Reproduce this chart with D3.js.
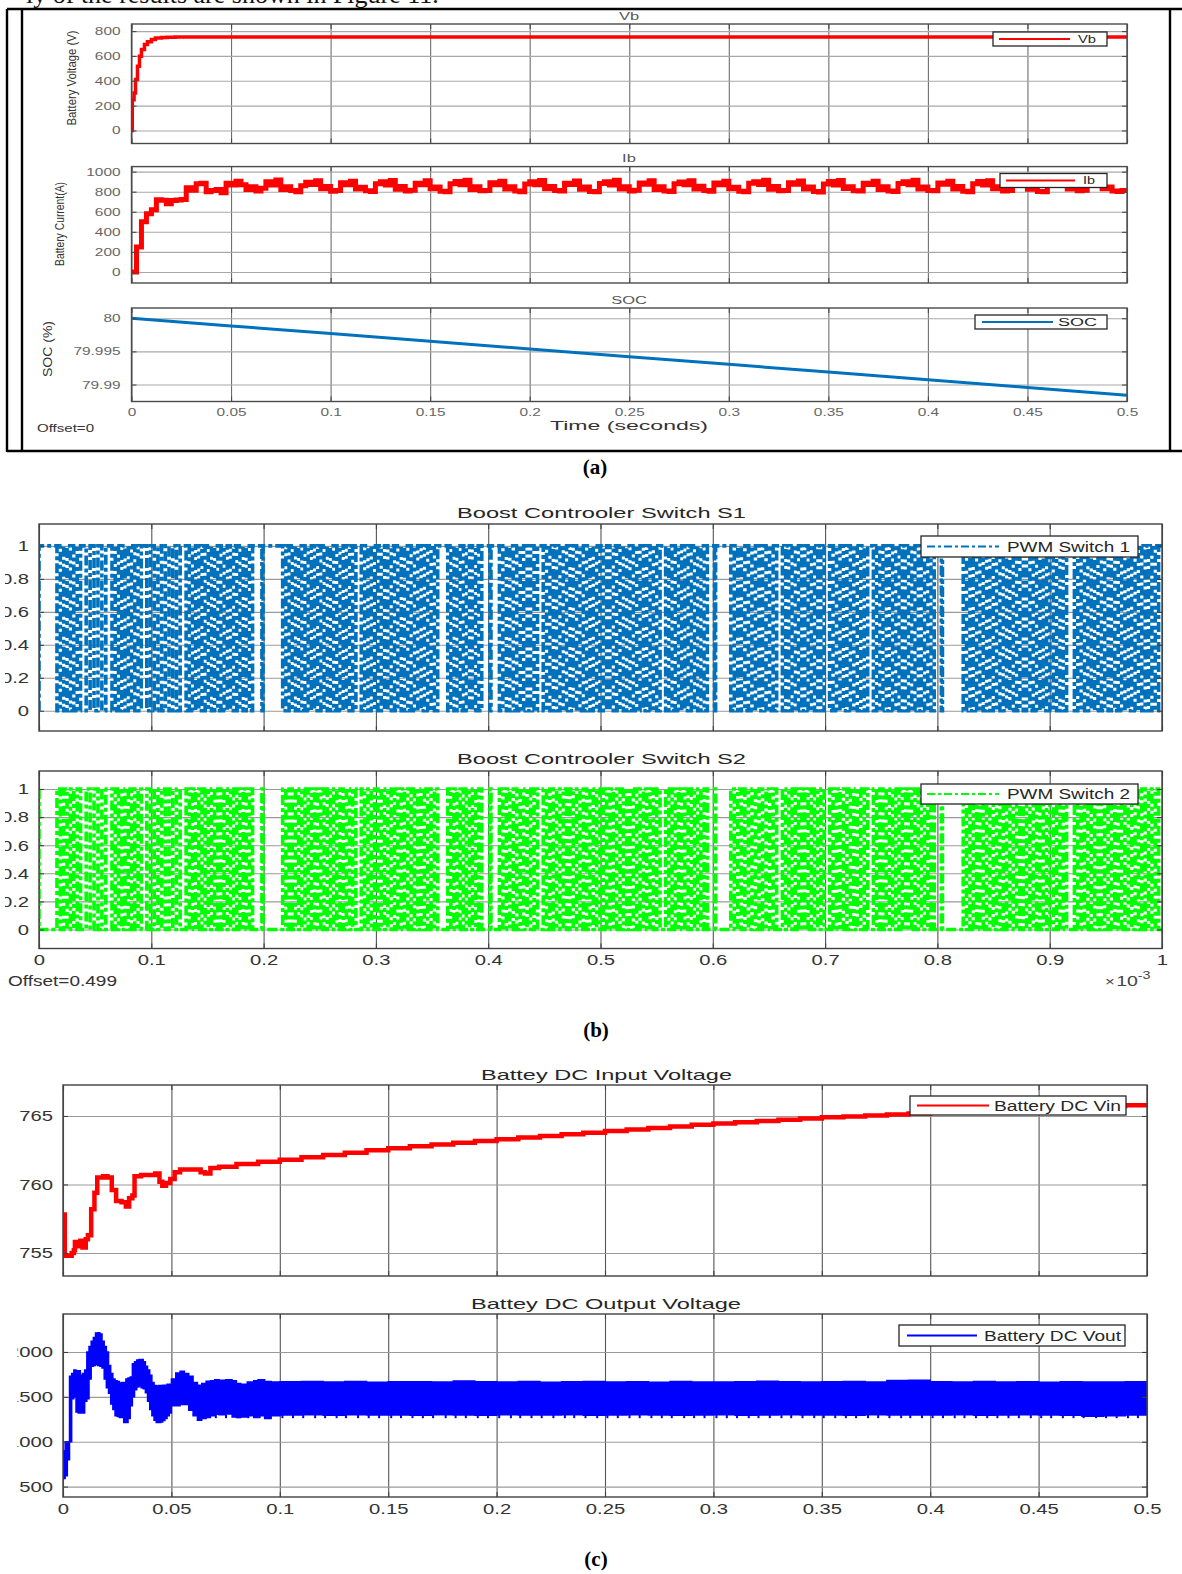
<!DOCTYPE html>
<html>
<head>
<meta charset="utf-8">
<script src="https://cdn.jsdelivr.net/npm/d3@7"></script>
<style>
  body { margin: 0; background: #fff; }
  svg { display: block; }
</style>
</head>
<body>
<svg id="fig" width="1182" height="1574"></svg>
<script>
// ---------------- (a) battery voltage, current and state of charge ----------------
const timeTicksA = [0, 0.05, 0.1, 0.15, 0.2, 0.25, 0.3, 0.35, 0.4, 0.45, 0.5];
const vbTicks = [0, 200, 400, 600, 800];
const ibTicks = [0, 200, 400, 600, 800, 1000];
const socTicks = [79.99, 79.995, 80];

const vbT = [0, 0.0004, 0.0013, 0.002, 0.003, 0.004, 0.005, 0.0065, 0.008, 0.01, 0.012, 0.015, 0.018, 0.022, 0.026, 0.5];
const vbV = [0, 248, 302, 410, 517, 598, 652, 692, 715, 733, 744, 749, 751, 752, 752, 752];

// battery current sampled every 2.5 ms
const ibStep = 0.0025;
const ibV = [
  0, 250, 500, 580, 620, 720, 715, 680, 712, 718, 722, 840, 815, 880, 885, 800, 812, 822, 790, 883, 867,
  905, 870, 823, 850, 807, 835, 900, 867,
  917, 823, 848, 812, 800, 860, 895, 872,
  910, 830, 852, 805, 812, 888, 870, 905,
  828, 845, 810, 802, 878, 900, 866, 912,
  825, 851, 808, 815, 885, 870, 908, 830,
  846, 804, 800, 880, 902, 868, 915, 822,
  850, 810, 812, 890, 870, 904, 826, 848,
  806, 800, 876, 898, 870, 912, 830, 852,
  812, 808, 884, 872, 906, 824, 846, 803,
  799, 882, 900, 866, 914, 828, 850, 808,
  815, 887, 874, 908, 822, 848, 806, 802,
  879, 897, 869, 910, 826, 853, 811, 805,
  886, 868, 905, 829, 845, 804, 800, 884,
  899, 871, 913, 824, 851, 809, 813, 888,
  873, 907, 827, 847, 802, 798, 877, 902,
  866, 911, 831, 850, 810, 806, 885, 871,
  904, 823, 849, 807, 801, 881, 898, 869,
  915, 828, 846, 812, 809, 887, 874, 903,
  826, 852, 805, 799, 878, 901, 867, 909,
  830, 848, 808, 811, 883, 869, 906, 825,
  845, 803, 800, 880, 896, 872, 912, 827,
  851, 810, 814, 886, 873, 904, 829, 847,
  806, 802, 812, 800
];

const socT = [0, 0.05, 0.1, 0.15, 0.2, 0.25, 0.3, 0.35, 0.4, 0.45, 0.5];
const socV = [80, 79.99884, 79.99768, 79.99652, 79.99536, 79.9942, 79.99304, 79.99188, 79.99072, 79.98956, 79.9884];

// ---------------- (b) boost converter switching signals (time x 1e-3 s) ----------------
const pwmTicksX = [0, 0.1, 0.2, 0.3, 0.4, 0.5, 0.6, 0.7, 0.8, 0.9, 1];
const pwmTicksY = [0, 0.2, 0.4, 0.6, 0.8, 1];
// switching bursts of S1: [start, end, edge spacing]; S1 rests high between bursts
const s1Bursts = [
  [0.016, 0.040, 0.0030],
  [0.042, 0.063, 0.0031],
  [0.065, 0.094, 0.0030],
  [0.096, 0.129, 0.0031],
  [0.131, 0.193, 0.0029],
  [0.1985, 0.2005, 0.001],
  [0.217, 0.285, 0.0029],
  [0.287, 0.358, 0.0029],
  [0.364, 0.397, 0.0030],
  [0.4015, 0.4035, 0.001],
  [0.410, 0.447, 0.0030],
  [0.449, 0.556, 0.0029],
  [0.558, 0.598, 0.0030],
  [0.6015, 0.6035, 0.001],
  [0.616, 0.660, 0.0031],
  [0.662, 0.702, 0.0030],
  [0.704, 0.741, 0.0030],
  [0.743, 0.800, 0.0029],
  [0.8035, 0.8055, 0.001],
  [0.823, 0.918, 0.0029],
  [0.922, 1.0, 0.0030]
];

// ---------------- (c) battery DC input / output voltage ----------------
const timeTicksC = [0, 0.05, 0.1, 0.15, 0.2, 0.25, 0.3, 0.35, 0.4, 0.45, 0.5];
const vinTicks = [755, 760, 765];
const vinT = [0, 0.0008, 0.002, 0.004, 0.005, 0.0055, 0.007, 0.008, 0.009, 0.0105, 0.0115, 0.013, 0.0145, 0.0158,
  0.0185, 0.0205, 0.0225, 0.0245, 0.027, 0.029, 0.0305, 0.032, 0.033, 0.036, 0.0425, 0.0445, 0.0458, 0.0475,
  0.0495, 0.0515, 0.054, 0.061, 0.0635, 0.0655, 0.068, 0.072, 0.08, 0.09, 0.1, 0.11, 0.12, 0.13, 0.14, 0.15,
  0.16, 0.17, 0.18, 0.19, 0.2, 0.21, 0.22, 0.23, 0.24, 0.25, 0.26, 0.27, 0.28, 0.29, 0.3, 0.31, 0.32, 0.33,
  0.34, 0.35, 0.36, 0.37, 0.38, 0.39, 0.4, 0.41, 0.42, 0.43, 0.44, 0.45, 0.46, 0.47, 0.48, 0.49, 0.5];
const vinV = [757.8, 754.8, 754.8, 755.0, 755.2, 755.8, 755.5, 755.9, 755.4, 756.0, 756.3, 758.2, 759.4, 760.5,
  760.6, 760.5, 759.6, 758.8, 758.7, 758.4, 759.0, 759.2, 760.6, 760.7, 760.8, 760.2, 759.9, 760.1,
  760.4, 760.9, 761.1, 761.1, 760.9, 760.8, 761.2, 761.3, 761.5, 761.65, 761.8, 761.98, 762.15, 762.32, 762.5, 762.65,
  762.79, 762.92, 763.05, 763.18, 763.3, 763.42, 763.54, 763.66, 763.78, 763.9, 764.02, 764.13, 764.24, 764.35, 764.45,
  764.55, 764.64, 764.73, 764.82, 764.9, 764.97, 765.04, 765.11, 765.18, 765.25, 765.31, 765.37, 765.43, 765.49,
  765.55, 765.61, 765.67, 765.73, 765.79, 765.85];

const voutTicks = [500, 1000, 1500, 2000];
const voutT = [0, 0.001, 0.002, 0.003, 0.004, 0.005, 0.006, 0.007, 0.008, 0.009, 0.010, 0.011, 0.012, 0.013, 0.014,
  0.015, 0.016, 0.017, 0.018, 0.019, 0.020, 0.021, 0.022, 0.023, 0.024, 0.025, 0.026, 0.027, 0.028, 0.029, 0.030,
  0.031, 0.032, 0.033, 0.034, 0.035, 0.036, 0.037, 0.038, 0.039, 0.040, 0.041, 0.042, 0.043, 0.044, 0.045, 0.046,
  0.047, 0.048, 0.049, 0.050, 0.052, 0.054, 0.056, 0.058, 0.060, 0.062, 0.064, 0.066, 0.068, 0.070, 0.072, 0.075,
  0.078, 0.080, 0.082, 0.085, 0.088, 0.090, 0.093, 0.096,
  0.10, 0.11, 0.12, 0.13, 0.14, 0.15, 0.16, 0.17, 0.18, 0.19, 0.20, 0.21, 0.22, 0.23, 0.24, 0.25, 0.26, 0.27,
  0.28, 0.29, 0.30, 0.31, 0.32, 0.33, 0.34, 0.35, 0.36, 0.37, 0.38, 0.39, 0.40, 0.41, 0.42, 0.43, 0.44, 0.45,
  0.46, 0.47, 0.48, 0.49, 0.50];
const voutHi = [900, 1000, 1000, 1730, 1760, 1800, 1790, 1790, 1740, 1760, 1800, 2000, 2060, 2120, 2160,
  2210, 2215, 2200, 2120, 2060, 2000, 1850, 1760, 1700, 1680, 1670, 1655, 1660, 1660, 1700, 1710,
  1720, 1870, 1890, 1910, 1915, 1915, 1890, 1840, 1800, 1740, 1660, 1625, 1620, 1625, 1625, 1630,
  1630, 1640, 1640, 1700, 1765, 1785, 1760, 1730, 1660, 1630, 1650, 1675, 1680, 1690, 1685, 1690,
  1680, 1650, 1640, 1665, 1680, 1690, 1670, 1665,
  1668, 1672, 1665, 1670, 1663, 1667, 1669, 1664, 1676, 1668, 1666, 1670, 1662, 1667, 1671, 1665, 1668, 1663,
  1670, 1666, 1664, 1669, 1673, 1667, 1665, 1668, 1670, 1664, 1682, 1684, 1668, 1666, 1670, 1665, 1667, 1663,
  1669, 1666, 1664, 1668, 1667];
const voutLo = [590, 620, 800, 1000, 1480, 1500, 1330, 1320, 1320, 1320, 1450, 1480, 1700, 1840, 1850,
  1860, 1850, 1840, 1820, 1700, 1600, 1540, 1420, 1360, 1290, 1280, 1270, 1270, 1215, 1215, 1260,
  1400, 1500, 1580, 1610, 1620, 1600, 1590, 1545, 1450, 1360, 1290, 1240, 1215, 1215, 1220, 1235,
  1260, 1290, 1320, 1400, 1400, 1415, 1415, 1350, 1290, 1240, 1260, 1270, 1290, 1305, 1300, 1310,
  1275, 1270, 1275, 1290, 1270, 1290, 1260, 1290,
  1298, 1300, 1296, 1301, 1297, 1299, 1295, 1300, 1298, 1296, 1301, 1297, 1299, 1300, 1296, 1298, 1301, 1297,
  1295, 1299, 1300, 1296, 1298, 1301, 1297, 1299, 1296, 1300, 1298, 1297, 1299, 1301, 1296, 1298, 1300, 1297,
  1295, 1285, 1290, 1298, 1296];
// short downward ripple spikes along the lower edge of the output band
const voutSpikeT = [0.065, 0.0705, 0.0752, 0.0808, 0.0855, 0.0907, 0.0951, 0.1012, 0.1061, 0.1108, 0.1163, 0.1209,
  0.1262, 0.1305, 0.1361, 0.1410, 0.1458, 0.1514, 0.1559, 0.1612, 0.1660, 0.1707, 0.1765, 0.1811, 0.1858, 0.1913,
  0.1960, 0.2012, 0.2066, 0.2109, 0.2161, 0.2208, 0.2262, 0.2315, 0.2358, 0.2410, 0.2464, 0.2511, 0.2559, 0.2613,
  0.2660, 0.2714, 0.2762, 0.2808, 0.2865, 0.2911, 0.2959, 0.3014, 0.3062, 0.3109, 0.3163, 0.3208, 0.3260, 0.3314,
  0.3359, 0.3411, 0.3465, 0.3509, 0.3562, 0.3611, 0.3658, 0.3713, 0.3760, 0.3812, 0.3866, 0.3908, 0.3962, 0.4011,
  0.4059, 0.4113, 0.4158, 0.4211, 0.4263, 0.4310, 0.4361, 0.4409, 0.4464, 0.4512, 0.4558, 0.4612, 0.4661, 0.4708,
  0.4765, 0.4811, 0.4860, 0.4912, 0.4958];
const voutSpikeV = 1262;

// ---------------- drawing helpers ----------------
const svg = d3.select("#fig");
const SANS = "'Liberation Sans', Arial, Helvetica, sans-serif";
const SERIF = "'Liberation Serif', 'Times New Roman', serif";
let clipCount = 0;

function txt(parent, x, y, s, o = {}) {
  const t = parent.append("text")
    .attr("font-family", o.family || SANS)
    .attr("font-size", o.size || 12)
    .attr("fill", o.fill || "#333")
    .attr("text-anchor", o.anchor || "start")
    .attr("dominant-baseline", "central")
    .text(s);
  if (o.weight) t.attr("font-weight", o.weight);
  if (o.len) t.attr("textLength", o.len).attr("lengthAdjust", "spacingAndGlyphs");
  if (o.sx || o.rot) {
    t.attr("x", 0).attr("y", 0)
     .attr("transform", `translate(${x},${y})` + (o.rot ? ` rotate(${o.rot})` : "") + (o.sx ? ` scale(${o.sx},1)` : ""));
  } else {
    t.attr("x", x).attr("y", y);
  }
  return t;
}

function makeAxes(o) {
  const x = d3.scaleLinear().domain(o.xDom).range([o.x0, o.x1]);
  const y = d3.scaleLinear().domain(o.yDom).range([o.y1, o.y0]);
  const w = o.x1 - o.x0, h = o.y1 - o.y0;
  const root = svg.append("g");
  root.append("rect").attr("x", o.x0).attr("y", o.y0).attr("width", w).attr("height", h).attr("fill", "#fff");

  // grid
  root.append("g").attr("transform", `translate(0,${o.y1})`)
    .call(d3.axisBottom(x).tickValues(o.xTicks).tickSize(-h).tickFormat(""))
    .call(a => { a.select(".domain").remove(); a.selectAll("line").attr("stroke", o.vGrid).attr("stroke-width", 1.1); });
  root.append("g").attr("transform", `translate(${o.x0},0)`)
    .call(d3.axisLeft(y).tickValues(o.yTicks).tickSize(-w).tickFormat(""))
    .call(a => { a.select(".domain").remove(); a.selectAll("line").attr("stroke", o.hGrid).attr("stroke-width", 1.1); });

  const clipId = "plotclip" + (++clipCount);
  root.append("clipPath").attr("id", clipId)
    .append("rect").attr("x", o.x0).attr("y", o.y0).attr("width", w).attr("height", h);
  const data = root.append("g").attr("clip-path", `url(#${clipId})`);

  // inward ticks on all four sides, then the box
  const frame = root.append("g");
  const tl = 5;
  const tickStyle = a => {
    a.select(".domain").remove();
    a.selectAll("text").remove();
    a.selectAll("line").attr("stroke", o.frame).attr("stroke-width", 1.1);
  };
  frame.append("g").attr("transform", `translate(0,${o.y1})`).call(d3.axisBottom(x).tickValues(o.xTicks).tickSize(-tl)).call(tickStyle);
  frame.append("g").attr("transform", `translate(0,${o.y0})`).call(d3.axisTop(x).tickValues(o.xTicks).tickSize(-tl)).call(tickStyle);
  frame.append("g").attr("transform", `translate(${o.x0},0)`).call(d3.axisLeft(y).tickValues(o.yTicks).tickSize(-tl)).call(tickStyle);
  frame.append("g").attr("transform", `translate(${o.x1},0)`).call(d3.axisRight(y).tickValues(o.yTicks).tickSize(-tl)).call(tickStyle);
  frame.append("rect").attr("x", o.x0).attr("y", o.y0).attr("width", w).attr("height", h)
    .attr("fill", "none").attr("stroke", o.frame).attr("stroke-width", 1.4);

  // tick labels
  const styleLabels = (a) => {
    a.select(".domain").remove();
    a.selectAll("line").remove();
    a.attr("font-family", SANS);
    a.selectAll("text")
      .attr("font-family", SANS)
      .attr("font-size", o.labSize)
      .attr("fill", o.labFill)
      .attr("transform", `scale(${o.labSx},1)`)
      .each(function () {
        const xx = this.getAttribute("x");
        if (xx !== null) this.setAttribute("x", (+xx) / o.labSx);
      });
  };
  const labWrap = root.append("g");
  if (o.labClipX != null) {
    const lc = "labclip" + (++clipCount);
    root.append("clipPath").attr("id", lc)
      .append("rect").attr("x", o.labClipX).attr("y", o.y0 - 20).attr("width", o.x0 - o.labClipX).attr("height", h + 40);
    labWrap.attr("clip-path", `url(#${lc})`);
  }
  labWrap.append("g").attr("transform", `translate(${o.x0},0)`)
    .call(d3.axisLeft(y).tickValues(o.yTicks).tickSize(0).tickPadding(o.yPad).tickFormat(d => String(d)))
    .call(styleLabels);
  if (o.xLabels) {
    root.append("g").attr("transform", `translate(0,${o.y1})`)
      .call(d3.axisBottom(x).tickValues(o.xTicks).tickSize(0).tickPadding(o.xPad).tickFormat(d => String(d)))
      .call(styleLabels);
  }
  return { x, y, data, root };
}

function legend(o) {
  const g = svg.append("g");
  g.append("rect").attr("x", o.x0).attr("y", o.y0).attr("width", o.x1 - o.x0).attr("height", o.y1 - o.y0)
    .attr("fill", "#fff").attr("stroke", "#262626").attr("stroke-width", 1.3);
  const cy = (o.y0 + o.y1) / 2;
  const ln = g.append("line").attr("x1", o.l0).attr("x2", o.l1).attr("y1", cy).attr("y2", cy)
    .attr("stroke", o.color).attr("stroke-width", o.lw);
  if (o.dash) ln.attr("stroke-dasharray", o.dash);
  txt(g, o.tx, cy, o.label, { size: o.size, len: o.tlen, fill: "#262626" });
}

// ---------------- page text above the figure ----------------
svg.append("text").attr("x", 26).attr("y", 3).attr("font-family", SERIF).attr("font-size", 26)
  .attr("fill", "#111").text("ly of the results are shown in Figure 11.");

// ---------------- (a) ----------------
const frameA = svg.append("g").attr("stroke", "#000").attr("stroke-width", 2.4);
frameA.append("line").attr("x1", 7).attr("x2", 1182).attr("y1", 9).attr("y2", 9);
frameA.append("line").attr("x1", 7).attr("x2", 1182).attr("y1", 451).attr("y2", 451);
frameA.append("line").attr("x1", 7).attr("x2", 7).attr("y1", 9).attr("y2", 452);
frameA.append("line").attr("x1", 22).attr("x2", 22).attr("y1", 9).attr("y2", 451);
frameA.append("line").attr("x1", 1170).attr("x2", 1170).attr("y1", 9).attr("y2", 451);

const aCommon = {
  x0: 131.5, x1: 1127, xDom: [0, 0.5], xTicks: timeTicksA,
  vGrid: "#6f6f6f", hGrid: "#a8a8a8", frame: "#4a4a4a",
  labSize: 11, labFill: "#666", labSx: 1.4, yPad: 11, xPad: 7
};

const axVb = makeAxes({ ...aCommon, y0: 24, y1: 143.5, yDom: [-105, 857], yTicks: vbTicks });
const axIb = makeAxes({ ...aCommon, y0: 166.6, y1: 283, yDom: [-110, 1050], yTicks: ibTicks });
const axSoc = makeAxes({ ...aCommon, y0: 308, y1: 401.5, yDom: [79.98744, 80.00154], yTicks: socTicks, xLabels: true });

axVb.data.append("path")
  .datum(vbT.map((t, i) => ({ t, v: vbV[i] })))
  .attr("fill", "none").attr("stroke", "#ff0000").attr("stroke-width", 3.5)
  .attr("d", d3.line().x(d => axVb.x(d.t)).y(d => axVb.y(d.v)).curve(d3.curveStepAfter));

axIb.data.append("path")
  .datum(ibV.map((v, i) => ({ t: i * ibStep, v })))
  .attr("fill", "none").attr("stroke", "#ff0000").attr("stroke-width", 5).attr("stroke-linejoin", "miter")
  .attr("d", d3.line().x(d => axIb.x(d.t)).y(d => axIb.y(d.v)).curve(d3.curveStepAfter));

axSoc.data.append("path")
  .datum(socT.map((t, i) => ({ t, v: socV[i] })))
  .attr("fill", "none").attr("stroke", "#0072bd").attr("stroke-width", 3)
  .attr("d", d3.line().x(d => axSoc.x(d.t)).y(d => axSoc.y(d.v)));

txt(svg, 629, 16, "Vb", { size: 11, fill: "#555", anchor: "middle", sx: 1.5 });
txt(svg, 629, 158.5, "Ib", { size: 11, fill: "#555", anchor: "middle", sx: 1.5 });
txt(svg, 629, 300, "SOC", { size: 11, fill: "#555", anchor: "middle", sx: 1.5 });

txt(svg, 72, 78, "Battery Voltage (V)", { size: 12, fill: "#333", anchor: "middle", rot: -90, len: 95 });
txt(svg, 60, 224, "Battery Current(A)", { size: 12, fill: "#333", anchor: "middle", rot: -90, len: 84 });
txt(svg, 48, 349, "SOC (%)", { size: 12, fill: "#333", anchor: "middle", rot: -90, len: 56 });

txt(svg, 550, 425.5, "Time (seconds)", { size: 12, fill: "#333", len: 158 });
txt(svg, 37, 427.5, "Offset=0", { size: 11, fill: "#333", len: 57 });

legend({ x0: 993, x1: 1107, y0: 32, y1: 46, l0: 999, l1: 1070, color: "#ff0000", lw: 2,
  tx: 1078, tlen: 18, label: "Vb", size: 10 });
legend({ x0: 1000, x1: 1107, y0: 173.5, y1: 187.5, l0: 1006, l1: 1075, color: "#ff0000", lw: 2,
  tx: 1083, tlen: 12, label: "Ib", size: 10 });
legend({ x0: 975, x1: 1107, y0: 315, y1: 329, l0: 982, l1: 1053, color: "#0072bd", lw: 2,
  tx: 1058, tlen: 39, label: "SOC", size: 10 });

txt(svg, 595, 467, "(a)", { family: SERIF, size: 21, weight: "bold", fill: "#000", anchor: "middle" });

// ---------------- (b) ----------------
function pwmPoints(bursts, rest) {
  const idle = rest, act = 1 - rest;
  const pts = [{ t: 0, v: act }, { t: 0, v: idle }];
  bursts.forEach(([t0, t1, step]) => {
    let n = Math.max(2, 2 * Math.round((t1 - t0) / step / 2));
    const d = (t1 - t0) / n;
    for (let i = 0; i < n; i++) pts.push({ t: t0 + i * d, v: i % 2 === 0 ? act : idle });
  });
  pts.push({ t: 1, v: idle });
  return pts;
}

const bCommon = {
  x0: 39, x1: 1162, xDom: [0, 1], xTicks: pwmTicksX, yTicks: pwmTicksY,
  vGrid: "#555", hGrid: "#9a9a9a", frame: "#404040",
  labSize: 15, labFill: "#333", labSx: 1.35, yPad: 10, xPad: 6, labClipX: 5
};
const axS1 = makeAxes({ ...bCommon, y0: 524, y1: 731, yDom: [-0.123, 1.133] });
const axS2 = makeAxes({ ...bCommon, y0: 771, y1: 948.5, yDom: [-0.135, 1.128], xLabels: true });

const PWM_DASH = "10,3,4,3";
axS1.data.append("path")
  .datum(pwmPoints(s1Bursts, 1))
  .attr("fill", "none").attr("stroke", "#0072bd").attr("stroke-width", 3.6)
  .attr("stroke-dasharray", PWM_DASH)
  .attr("d", d3.line().x(d => axS1.x(d.t)).y(d => axS1.y(d.v)).curve(d3.curveStepAfter));

axS2.data.append("path")
  .datum(pwmPoints(s1Bursts, 0))
  .attr("fill", "none").attr("stroke", "#00ff00").attr("stroke-width", 3.6)
  .attr("stroke-dasharray", PWM_DASH)
  .attr("d", d3.line().x(d => axS2.x(d.t)).y(d => axS2.y(d.v)).curve(d3.curveStepAfter));

txt(svg, 457, 512, "Boost Controoler Switch S1", { size: 15, fill: "#262626", len: 289 });
txt(svg, 457, 758, "Boost Controoler Switch S2", { size: 15, fill: "#262626", len: 289 });

legend({ x0: 921, x1: 1138, y0: 536, y1: 557, l0: 927, l1: 999, color: "#0072bd", lw: 2.2, dash: "8,3,3,3",
  tx: 1007, tlen: 123, label: "PWM Switch 1", size: 14 });
legend({ x0: 921, x1: 1138, y0: 784, y1: 804, l0: 927, l1: 999, color: "#00ff00", lw: 2.2, dash: "8,3,3,3",
  tx: 1007, tlen: 123, label: "PWM Switch 2", size: 14 });

txt(svg, 8, 981, "Offset=0.499", { size: 14, fill: "#333", len: 109 });
const expo = svg.append("text").attr("font-family", SANS).attr("fill", "#444")
  .attr("transform", "translate(1105,986) scale(1.3,1)");
expo.append("tspan").attr("font-size", 13).text("\u00d7");
expo.append("tspan").attr("font-size", 15).attr("dx", 1).text("10");
expo.append("tspan").attr("font-size", 11).attr("dy", -7).text("-3");

txt(svg, 596, 1030, "(b)", { family: SERIF, size: 21, weight: "bold", fill: "#000", anchor: "middle" });

// ---------------- (c) ----------------
const cCommon = {
  x0: 63, x1: 1147, xDom: [0, 0.5], xTicks: timeTicksC,
  vGrid: "#555", hGrid: "#9a9a9a", frame: "#404040",
  labSize: 15, labFill: "#333", labSx: 1.35, yPad: 10, xPad: 6, labClipX: 17.5
};
const axVin = makeAxes({ ...cCommon, y0: 1085, y1: 1276, yDom: [753.32, 767.26], yTicks: vinTicks });
const axVout = makeAxes({ ...cCommon, y0: 1314, y1: 1497, yDom: [384, 2423], yTicks: voutTicks, xLabels: true });

axVin.data.append("path")
  .datum(vinT.map((t, i) => ({ t, v: vinV[i] })))
  .attr("fill", "none").attr("stroke", "#ff0000").attr("stroke-width", 4.5)
  .attr("d", d3.line().x(d => axVin.x(d.t)).y(d => axVin.y(d.v)).curve(d3.curveStepAfter));

const voutRows = voutT.map((t, i) => ({ t, hi: voutHi[i], lo: voutLo[i] }));
axVout.data.append("path")
  .datum(voutRows)
  .attr("fill", "#0000ff").attr("stroke", "#0000ff").attr("stroke-width", 1.5)
  .attr("d", d3.area().x(d => axVout.x(d.t)).y0(d => axVout.y(d.lo)).y1(d => axVout.y(d.hi)).curve(d3.curveStepAfter));
axVout.data.selectAll("line.spike")
  .data(voutSpikeT)
  .join("line").attr("class", "spike")
  .attr("x1", d => axVout.x(d)).attr("x2", d => axVout.x(d))
  .attr("y1", axVout.y(1300)).attr("y2", axVout.y(voutSpikeV))
  .attr("stroke", "#0000ff").attr("stroke-width", 2);

txt(svg, 481, 1074, "Battey DC Input Voltage", { size: 15, fill: "#262626", len: 251 });
txt(svg, 471, 1303, "Battey DC Output Voltage", { size: 15, fill: "#262626", len: 270 });

legend({ x0: 910, x1: 1126, y0: 1096, y1: 1115, l0: 917, l1: 989, color: "#ff0000", lw: 2.2,
  tx: 994, tlen: 127, label: "Battery DC Vin", size: 14 });
legend({ x0: 899, x1: 1125, y0: 1325, y1: 1346, l0: 907, l1: 977, color: "#0000ff", lw: 2.2,
  tx: 984, tlen: 137, label: "Battery DC Vout", size: 14 });

txt(svg, 596, 1559, "(c)", { family: SERIF, size: 21, weight: "bold", fill: "#000", anchor: "middle" });
</script>
</body>
</html>
